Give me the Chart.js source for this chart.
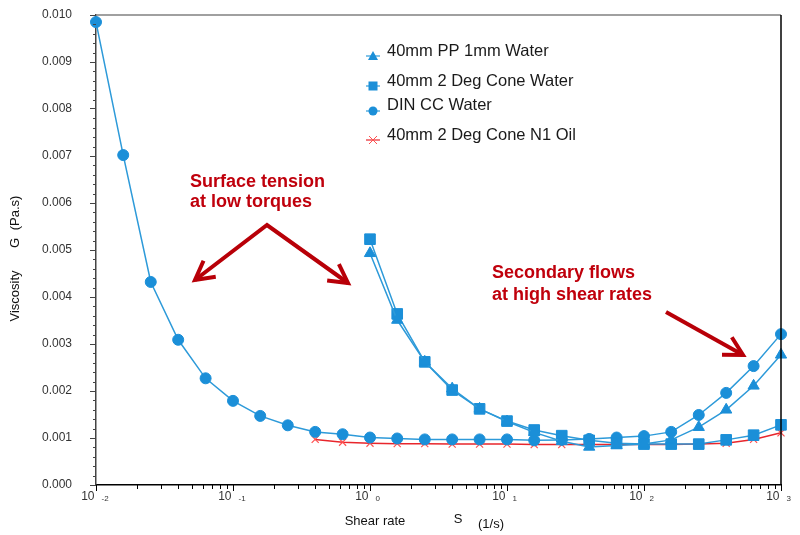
<!DOCTYPE html>
<html>
<head>
<meta charset="utf-8">
<script src="https://cdn.jsdelivr.net/npm/chart.js@4.4.1/dist/chart.umd.min.js"></script>
<style>
  html, body { margin: 0; padding: 0; background: #fff; }
  #wrap { width: 800px; height: 535px; }
</style>
</head>
<body>
<div id="wrap"><canvas id="viscChart"></canvas></div>
<script>
// shear rates (1/s), 5 points per decade
const shearRate = [0.01, 0.0158, 0.0251, 0.0398, 0.0631, 0.1, 0.158, 0.251, 0.398, 0.631,
  1, 1.58, 2.51, 3.98, 6.31, 10, 15.8, 25.1, 39.8, 63.1, 100, 158, 251, 398, 631, 1000];

// viscosity (Pa.s) - each series ends at the last shear rate
const dinCCWater = [0.00985, 0.00702, 0.00432, 0.00309, 0.00227, 0.00179, 0.00147, 0.00127, 0.00113, 0.00108,
  0.00101, 0.00099, 0.00097, 0.00097, 0.00097, 0.00097, 0.00095, 0.00096, 0.00098, 0.00101,
  0.00104, 0.00113, 0.00149, 0.00196, 0.00253, 0.00321];
const ppWater = [0.00493, 0.00351, 0.00262, 0.00205, 0.00162, 0.00135, 0.00112, 0.00093, 0.00081, 0.00084,
  0.00087, 0.00096, 0.00123, 0.00160, 0.00211, 0.00277];
const coneWater = [0.00523, 0.00364, 0.00262, 0.00202, 0.00162, 0.00136, 0.00117, 0.00105, 0.00095, 0.00089,
  0.00087, 0.00087, 0.00087, 0.00096, 0.00106, 0.00128];
const coneOil = [0.00097, 0.00091, 0.00089, 0.00088, 0.00088, 0.00087, 0.00087, 0.00087, 0.00086, 0.00086,
  0.00086, 0.00086, 0.00086, 0.00086, 0.00087, 0.00089, 0.00097, 0.00111];

const seriesNames = ['40mm PP 1mm Water', '40mm 2 Deg Cone Water', 'DIN CC Water', '40mm 2 Deg Cone N1 Oil'];
const yTicks = [0, 0.001, 0.002, 0.003, 0.004, 0.005, 0.006, 0.007, 0.008, 0.009, 0.010];
const xDecades = [-2, -1, 0, 1, 2, 3];

const FONT = 'Arial, "Liberation Sans", sans-serif';
const BLUE = '#1b8fd8';
const BLUE_LINE = '#2d9ad9';
const RED_X = '#ff5050';
const RED_LINE = '#e8262c';
const DARK_RED = '#b80008';

// pair each series with the tail of shearRate
function pairs(ys) {
  const off = shearRate.length - ys.length;
  return ys.map((y, i) => ({ x: shearRate[off + i], y: y }));
}

// legend, axis titles, minor ticks, frame and the red notes
const extras = {
  id: 'extras',
  afterDraw(chart) {
    const c = chart.ctx;
    const xs = chart.scales.x, ys = chart.scales.y;
    const a = chart.chartArea;
    c.save();

    // top + right frame
    c.lineWidth = 1.5;
    c.strokeStyle = '#808080';
    c.beginPath(); c.moveTo(a.left, a.top); c.lineTo(a.right, a.top); c.stroke();
    c.strokeStyle = '#000';
    c.beginPath(); c.moveTo(a.right, a.top); c.lineTo(a.right, a.bottom); c.stroke();

    // y minor ticks
    c.lineWidth = 1;
    c.strokeStyle = '#444';
    for (let k = 0; k <= 50; k++) {
      if (k % 5 === 0) continue;
      const py = Math.round(ys.getPixelForValue(k * 0.0002)) + 0.5;
      c.beginPath(); c.moveTo(a.left - 3, py); c.lineTo(a.left, py); c.stroke();
    }

    // x ticks (decades + minors) and labels 10^n
    c.strokeStyle = '#000';
    xDecades.forEach((d, i) => {
      const base = Math.pow(10, d);
      const px = Math.round(xs.getPixelForValue(base)) + 0.5;
      c.beginPath(); c.moveTo(px, a.bottom); c.lineTo(px, a.bottom + 6); c.stroke();
      if (i < xDecades.length - 1) {
        for (let m = 2; m <= 9; m++) {
          const mx = Math.round(xs.getPixelForValue(base * m)) + 0.5;
          c.beginPath(); c.moveTo(mx, a.bottom); c.lineTo(mx, a.bottom + 4); c.stroke();
        }
      }
      c.fillStyle = '#333';
      c.textBaseline = 'middle';
      c.font = '12px ' + FONT;
      c.textAlign = 'right';
      c.fillText('10', px - 2, a.bottom + 12);
      c.font = '8px ' + FONT;
      c.textAlign = 'left';
      c.fillText(d < 0 ? '-' + (-d) : String(d), px + 5, a.bottom + 14);
    });

    // axis titles
    c.fillStyle = '#111';
    c.textAlign = 'center';
    c.textBaseline = 'middle';
    c.font = '13px ' + FONT;
    c.fillText('Shear rate', 375, 521);
    c.fillText('S', 458, 519);
    c.fillText('(1/s)', 491, 524);
    [['Viscosity', 296], ['G', 243], ['(Pa.s)', 213]].forEach(([t, yc]) => {
      c.save(); c.translate(15, yc); c.rotate(-Math.PI / 2);
      c.fillText(t, 0, 0); c.restore();
    });

    // legend
    const rows = [51, 81, 105, 135];
    c.font = '16.5px ' + FONT;
    c.textAlign = 'left';
    seriesNames.forEach((name, i) => {
      const my = rows[i] + (i === 2 ? 6 : 5);
      const mx = 373;
      const col = i === 3 ? RED_X : BLUE;
      c.strokeStyle = i === 3 ? RED_LINE : BLUE_LINE;
      c.lineWidth = 1.2;
      c.beginPath(); c.moveTo(mx - 7, my); c.lineTo(mx + 7, my); c.stroke();
      c.fillStyle = col;
      c.strokeStyle = col;
      c.beginPath();
      if (i === 0) { c.moveTo(mx, my - 5); c.lineTo(mx + 5, my + 4); c.lineTo(mx - 5, my + 4); c.closePath(); c.fill(); }
      if (i === 1) { c.fillRect(mx - 4.5, my - 4.5, 9, 9); }
      if (i === 2) { c.arc(mx, my, 4.5, 0, Math.PI * 2); c.fill(); }
      if (i === 3) { c.lineWidth = 1; c.moveTo(mx - 4, my - 4); c.lineTo(mx + 4, my + 4); c.moveTo(mx + 4, my - 4); c.lineTo(mx - 4, my + 4); c.stroke(); }
      c.fillStyle = '#1a1a1a';
      c.textBaseline = 'middle';
      c.fillText(name, 387, rows[i]);
    });

    // red notes
    c.fillStyle = '#c0000c';
    c.font = 'bold 18px ' + FONT;
    c.textBaseline = 'alphabetic';
    c.fillText('Surface tension', 190, 187);
    c.fillText('at low torques', 190, 207);
    c.fillText('Secondary flows', 492, 278);
    c.fillText('at high shear rates', 492, 300);

    function arrow(x0, y0, x1, y1) {
      const ang = Math.atan2(y0 - y1, x0 - x1);
      const L = 21, s = 0.5;
      c.beginPath();
      c.moveTo(x1 + L * Math.cos(ang + s), y1 + L * Math.sin(ang + s));
      c.lineTo(x1, y1);
      c.lineTo(x1 + L * Math.cos(ang - s), y1 + L * Math.sin(ang - s));
      c.stroke();
    }
    c.strokeStyle = DARK_RED;
    c.lineWidth = 4;
    c.lineJoin = 'miter';
    c.beginPath(); c.moveTo(195, 280); c.lineTo(267, 225); c.lineTo(348, 283); c.stroke();
    arrow(267, 225, 195, 280);
    arrow(267, 225, 348, 283);
    c.beginPath(); c.moveTo(666, 312); c.lineTo(743, 355); c.stroke();
    arrow(666, 312, 743, 355);

    c.restore();
  }
};

const ctx = document.getElementById('viscChart');
new Chart(ctx, {
  type: 'line',
  data: {
    datasets: [
      { label: seriesNames[0], data: pairs(ppWater), pointStyle: 'triangle', pointRadius: 6.5,
        backgroundColor: BLUE, borderColor: BLUE_LINE, pointBorderColor: BLUE },
      { label: seriesNames[1], data: pairs(coneWater), pointStyle: 'rect', pointRadius: 7.5,
        backgroundColor: BLUE, borderColor: BLUE_LINE, pointBorderColor: BLUE },
      { label: seriesNames[2], data: pairs(dinCCWater), pointStyle: 'circle', pointRadius: 5.5,
        backgroundColor: BLUE, borderColor: BLUE_LINE, pointBorderColor: BLUE },
      { label: seriesNames[3], data: pairs(coneOil), pointStyle: 'crossRot', pointRadius: 5,
        backgroundColor: RED_X, borderColor: RED_LINE, pointBorderColor: RED_X, pointBorderWidth: 1.2 }
    ]
  },
  options: {
    responsive: true,
    maintainAspectRatio: false,
    animation: false,
    events: [],
    layout: { autoPadding: false, padding: { top: 15, right: 19, left: 0, bottom: 0 } },
    elements: { line: { borderWidth: 1.5, tension: 0 }, point: { borderWidth: 1 } },
    datasets: { line: { clip: false } },
    plugins: { legend: { display: false }, tooltip: { enabled: false } },
    scales: {
      x: {
        type: 'logarithmic', min: 0.01, max: 1000,
        grid: { display: false },
        border: { display: true, color: '#000', width: 1.5 },
        ticks: { display: false },
        afterFit(s) { s.height = 50; }
      },
      y: {
        min: 0, max: 0.010,
        afterBuildTicks(s) { s.ticks = yTicks.map(v => ({ value: v })); },
        grid: { drawOnChartArea: false, drawTicks: true, tickLength: 6, color: '#444' },
        border: { display: true, color: '#444', width: 1.5 },
        ticks: {
          color: '#333', padding: 18, font: { family: FONT, size: 12 },
          callback: v => v.toFixed(3)
        },
        afterFit(s) { s.width = 96; s.paddingTop = 0; s.paddingBottom = 0; }
      }
    }
  },
  plugins: [extras]
});
</script>
</body>
</html>
